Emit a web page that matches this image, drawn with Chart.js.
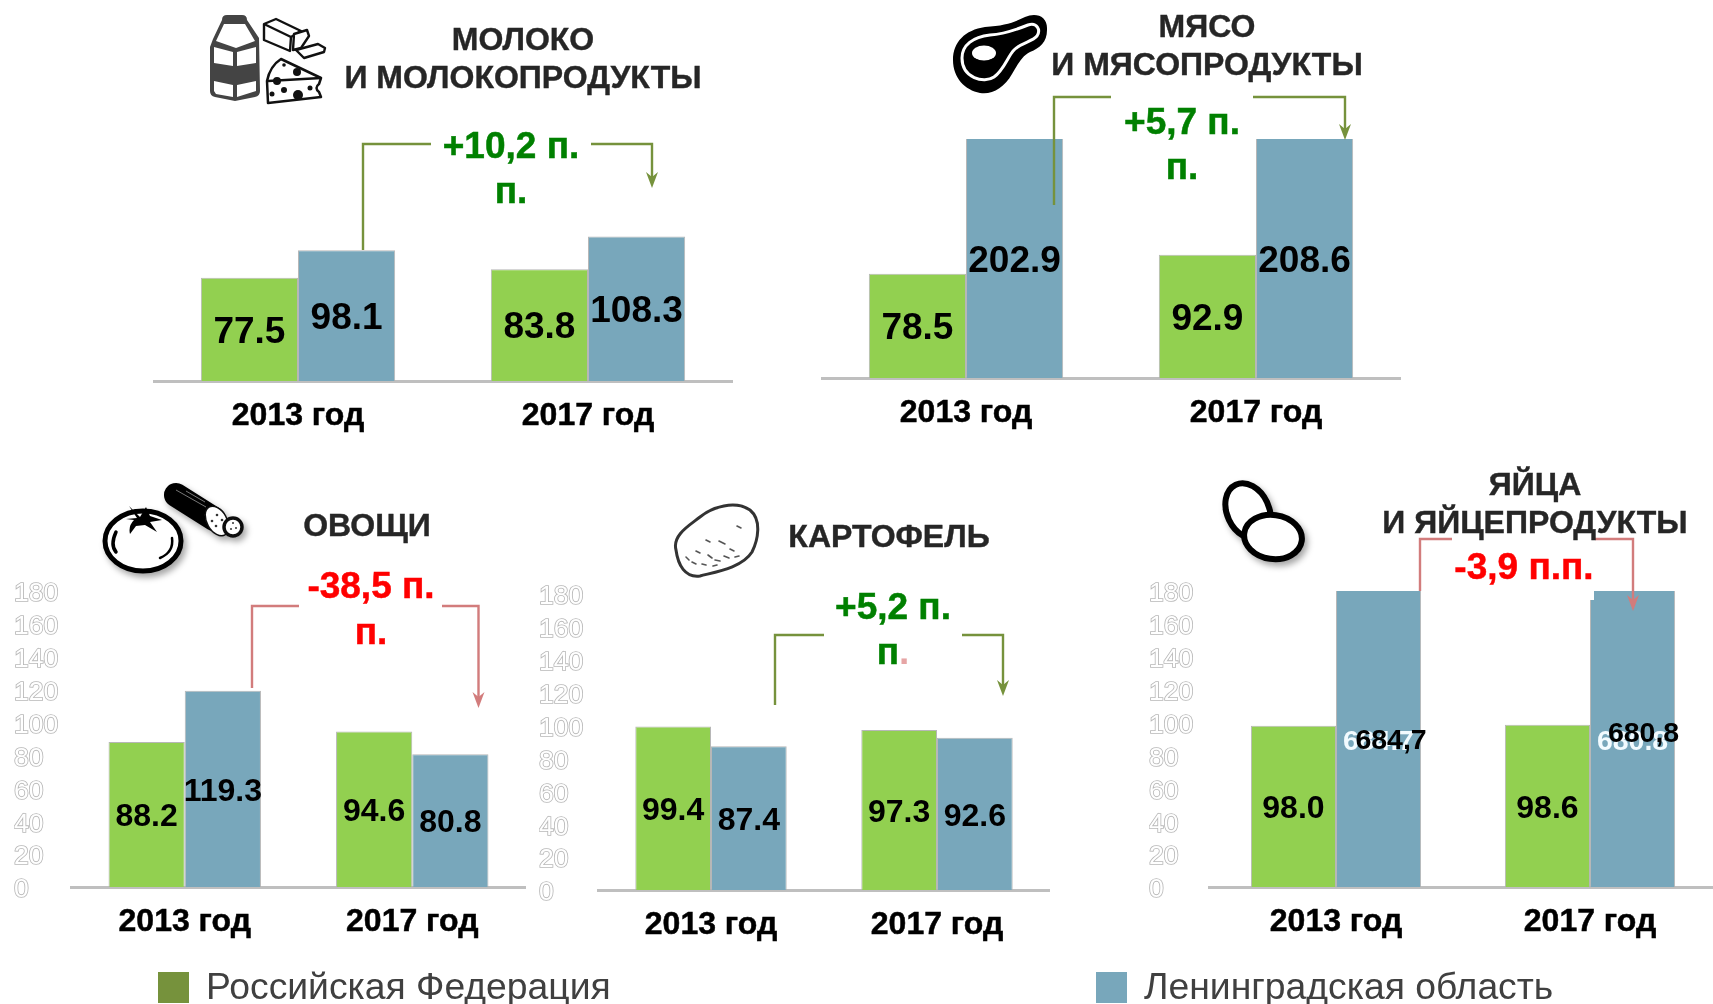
<!DOCTYPE html>
<html lang="ru"><head><meta charset="utf-8"><title>Продукты</title>
<script src="https://cdn.jsdelivr.net/npm/chart.js@4"></script>
<style>
html,body{margin:0;padding:0;background:#fff;width:1713px;height:1004px;overflow:hidden;font-family:"Liberation Sans",Arial,sans-serif}
canvas{position:absolute}
svg{position:absolute;left:0;top:0}
.t{position:absolute;transform:translate(-50%,-50%);white-space:nowrap;font-weight:bold;line-height:1}
.title{color:#262626;font-size:32px;-webkit-text-stroke:.4px #262626}
.green{color:#008000;font-size:37px;-webkit-text-stroke:.5px #008000}
.red{color:#ff0000;font-size:37px;-webkit-text-stroke:.5px #ff0000}
.lg{position:absolute;font-size:37.3px;color:#404040;white-space:nowrap;line-height:1;transform:translateY(-50%)}
.sq{position:absolute;width:31px;height:31px}
</style></head><body>
<canvas id="milk"></canvas><canvas id="meat"></canvas><canvas id="veg"></canvas><canvas id="potato"></canvas><canvas id="egg"></canvas>

<svg width="1713" height="1004" viewBox="0 0 1713 1004">
<defs>
<filter id="sh" filterUnits="userSpaceOnUse" x="0" y="0" width="1713" height="1004"><feDropShadow dx="3" dy="4" stdDeviation="3" flood-color="#000" flood-opacity=".35"/></filter>
</defs>
<!-- white box behind the egg annotation -->
<rect x="1421" y="541" width="173" height="59" fill="#fff"/>
<!-- brackets -->
<g fill="none" stroke-width="2.4">
<path stroke="#76923c" d="M363 250V144H431M591 144H652V182"/>
<path stroke="#76923c" d="M1054 205V97H1111M1253 97H1345V134"/>
<path stroke="#d27c7c" d="M252 688V606H299M442 606H478.500V702"/>
<path stroke="#76923c" d="M775 705V635H824M962 635H1003V690"/>
<path stroke="#d27c7c" d="M1420 591V539H1452M1595 539H1633V605"/>
</g>
<path fill="#76923c" d="M652 188l-6-16 6 5 6-5z"/>
<path fill="#76923c" d="M1345 140l-6-16 6 5 6-5z"/>
<path fill="#d27c7c" d="M478.500 708l-6-16 6 5 6-5z"/>
<path fill="#76923c" d="M1003 696l-6-16 6 5 6-5z"/>
<path fill="#d27c7c" d="M1633 611l-6-16 6 5 6-5z"/>
<!-- milk carton -->
<path fill="#444" d="M222 20Q222 15 227 15H242Q247 15 247 20L259 38 260 91Q260 96 255 97L235 101 215 97Q210 96 210 91V47L213 39Z"/>
<path fill="#fff" d="M224 24H245L255 41 236 48 216 41ZM214 47 233 52V66L214 63ZM237 52 256 47V63L237 66ZM214 81 233 85V97L216 94 214 91ZM237 85 256 81V91L237 97Z"/>
<!-- butter -->
<g fill="#fff" stroke="#111" stroke-width="2.400" stroke-linejoin="round">
<path d="M264 24 276 19 301 31 291 37 290 51 264 40Z"/>
<path d="M291 37 264 24"/>
<path d="M294 34 307 30 309 36 301 48 293 50Z"/>
<path d="M296 50 318 44 325 48 324 52 304 58Z"/>
</g>
<!-- cheese -->
<g stroke="#111" stroke-width="2.500" stroke-linejoin="round">
<path fill="#fff" d="M267 81Q270 66 281 59L321 78 319 84Q314 88 319 92L321 97 268 103Z"/>
<path fill="none" d="M268 81 321 78"/>
</g>
<g fill="#111"><circle cx="277" cy="81" r="4"/><circle cx="297" cy="72" r="4"/><circle cx="298" cy="95" r="5"/><circle cx="284" cy="90" r="3"/><circle cx="272" cy="94" r="2.500"/><circle cx="310" cy="88" r="2.500"/><circle cx="284" cy="65" r="1.800"/></g>
<!-- meat -->
<path fill="#000" d="M953 60C953 42 965 30 985 27 1005 26 1015 22 1025 17 1036 12 1048 16 1047 30 1047 42 1040 48 1030 52 1022 56 1018 64 1012 74 1004 88 992 95 980 93 965 90 953 78 953 60Z"/>
<path fill="none" stroke="#fff" stroke-width="3" d="M962 58C962 45 973 37 990 35 1005 34 1018 29 1028 25 1037 22 1041 30 1037 36 1032 42 1022 42 1014 50 1008 56 1004 70 994 77 984 84 962 78 962 58Z"/>
<ellipse cx="984" cy="53" rx="12" ry="7.500" fill="#fff"/>
<!-- cucumber -->
<g filter="url(#sh)">
<path fill="none" stroke="#000" stroke-width="24" stroke-linecap="round" d="M176 495 214 519"/>
<ellipse cx="217" cy="521" rx="10" ry="16" transform="rotate(-30 217 521)" fill="#fff" stroke="#111" stroke-width="1.500"/>
<circle cx="233" cy="527" r="9" fill="#fff" stroke="#111" stroke-width="3.500"/>
</g>
<path fill="none" stroke="#777" stroke-width="1" d="M176 490 206 507M186 491 205 502"/>
<g fill="#333"><circle cx="217" cy="515" r="1.300"/><circle cx="222" cy="520" r="1.300"/><circle cx="216" cy="526" r="1.300"/><circle cx="212" cy="521" r="1.300"/><circle cx="233" cy="523" r="1"/><circle cx="236" cy="528" r="1"/><circle cx="231" cy="529" r="1"/></g>
<!-- tomato -->
<g filter="url(#sh)"><ellipse cx="143" cy="541" rx="38" ry="30" fill="#fff" stroke="#000" stroke-width="5"/></g>
<path fill="#000" d="M129 506 140 517 146 507 150 516 162 520 150 522 157 532 145 525 136 526 130 534Q128 526 134 520L126 519 137 518Z"/>
<g fill="none" stroke="#000" stroke-linecap="round"><path stroke-width="3.500" d="M116 532Q110 545 116 552"/><path stroke-width="2.500" d="M172 538Q174 552 160 558"/></g>
<!-- potato -->
<path fill="#fff" stroke="#333" stroke-width="3" d="M676 550C672 535 690 525 700 517 712 507 735 500 750 510 762 520 758 540 752 552 742 568 715 572 700 576 685 578 678 565 676 550Z"/>
<g fill="none" stroke="#555" stroke-width="1.600" stroke-linecap="round"><path d="M737 526l4 2M706 540l4 2M719 541l6 3M696 551l4 2M708 555l4 3M715 560l5 1M724 556l5 2M735 557l4-1M686 557l3 3M692 562l4 2M702 564l4 1M713 566l4-1M730 549l4 2"/></g>
<!-- eggs -->
<g filter="url(#sh)">
<ellipse cx="1248" cy="511" rx="21" ry="29" transform="rotate(-25 1248 511)" fill="#fff" stroke="#000" stroke-width="6"/>
<ellipse cx="1273" cy="537" rx="29" ry="22" transform="rotate(8 1273 537)" fill="#fff" stroke="#000" stroke-width="6"/>
</g>
</svg>

<div class="t title" style="left:523px;top:39px">МОЛОКО</div>
<div class="t title" style="left:523px;top:77px">И МОЛОКОПРОДУКТЫ</div>
<div class="t title" style="left:1207px;top:26px">МЯСО</div>
<div class="t title" style="left:1207px;top:64px">И МЯСОПРОДУКТЫ</div>
<div class="t title" style="left:367px;top:525px">ОВОЩИ</div>
<div class="t title" style="left:889px;top:536px">КАРТОФЕЛЬ</div>
<div class="t title" style="left:1535px;top:484px">ЯЙЦА</div>
<div class="t title" style="left:1535px;top:522px">И ЯЙЦЕПРОДУКТЫ</div>

<div class="t green" style="left:511px;top:145px">+10,2 п.</div><div class="t green" style="left:511px;top:190px">п.</div>
<div class="t green" style="left:1182px;top:121px">+5,7 п.</div><div class="t green" style="left:1182px;top:166px">п.</div>
<div class="t red" style="left:371px;top:585px">-38,5 п.</div><div class="t red" style="left:371px;top:631px">п.</div>
<div class="t green" style="left:893px;top:606px">+5,2 п.</div><div class="t green" style="left:893px;top:651px">п<span style="color:#e6a5a5;-webkit-text-stroke:0">.</span></div>
<div class="t red" style="left:1524px;top:566px">-3,9 п.п.</div>

<div class="sq" style="left:158px;top:972px;background:#76923c"></div>
<div class="lg" style="left:206px;top:987px">Российская Федерация</div>
<div class="sq" style="left:1096px;top:972px;background:#78a7bb"></div>
<div class="lg" style="left:1144px;top:987px">Ленинградская область</div>

<script>
const categories = ['2013 год', '2017 год'];
const seriesNames = ['Российская Федерация', 'Ленинградская область'];
const yTickStep = 20;
const yAxisMax = 180;
const milkRF = [77.5, 83.8];
const milkLO = [98.1, 108.3];
const meatRF = [78.5, 92.9];
const meatLO = [202.9, 208.6];
const vegRF = [88.2, 94.6];
const vegLO = [119.3, 80.8];
const potatoRF = [99.4, 97.3];
const potatoLO = [87.4, 92.6];
const eggRF = [98.0, 98.6];
const eggLO = [684.7, 680.8];
const eggOverlay = ['684,7', '680,8'];

const GREEN = '#92d050', BLUE = '#78a7bb', EDGE = 'rgba(175,175,175,.9)';
const FF = '"Liberation Sans", Arial, sans-serif';

const barLabels = {
  id: 'barLabels',
  afterDatasetsDraw(chart, _a, o) {
    const c = chart.ctx, area = chart.chartArea;
    c.save();
    c.textAlign = 'center';
    c.textBaseline = 'middle';
    chart.data.datasets.forEach((ds, i) => {
      chart.getDatasetMeta(i).data.forEach((bar, j) => {
        const y = (Math.max(bar.y, area.top) + bar.base) / 2 + 3;
        c.font = 'bold ' + ((i === 1 && o.blueSize) || o.size) + 'px ' + FF;
        c.fillStyle = (i === 1 && o.blueColor) || '#000';
        c.fillText(ds.data[j].toFixed(1), bar.x, y);
        if (i === 1 && o.overlay) {
          c.fillStyle = '#000';
          c.fillText(o.overlay[j], bar.x + o.overlayDx[j], y + o.overlayDy[j]);
        }
      });
    });
    c.restore();
  }
};

function panel(id, rf, lo, g, label) {
  const el = document.getElementById(id);
  const pad = 20, xH = 62;
  const unit = g.bottom - g.top;
  el.width = g.right - g.labelLeft;
  el.height = pad + unit + xH;
  el.style.left = g.labelLeft + 'px';
  el.style.top = (g.top - pad) + 'px';
  new Chart(el, {
    type: 'bar',
    plugins: [barLabels],
    data: {
      labels: categories,
      datasets: [
        { label: seriesNames[0], data: rf, backgroundColor: GREEN, borderColor: EDGE, borderWidth: 1, borderSkipped: 'bottom' },
        { label: seriesNames[1], data: lo, backgroundColor: BLUE, borderColor: EDGE, borderWidth: 1, borderSkipped: 'bottom' }
      ]
    },
    options: {
      responsive: false, animation: false, devicePixelRatio: 1,
      layout: { padding: { top: pad, left: 0, right: 0, bottom: 0 } },
      plugins: { legend: { display: false }, tooltip: { enabled: false }, barLabels: label },
      datasets: { bar: { categoryPercentage: 0.67, barPercentage: 1 } },
      scales: {
        x: {
          grid: { display: false, drawTicks: false },
          border: { display: true, color: '#bfbfbf', width: 3 },
          ticks: { color: '#000', padding: 16, maxRotation: 0, autoSkip: false, textStrokeColor: '#000', textStrokeWidth: 0.5,
                   font: { family: FF, size: 32, weight: 'bold' } },
          afterFit(s) { s.height = xH; s.paddingLeft = s.paddingRight = 0; }
        },
        y: {
          display: g.showY ? true : false,
          min: 0, max: yAxisMax,
          grid: { display: false, drawTicks: false },
          border: { display: false },
          ticks: {
            stepSize: yTickStep, autoSkip: false, crossAlign: 'far', padding: 0, labelOffset: 3,
            color: '#fff', textStrokeColor: '#b8b8b8', textStrokeWidth: 1.7,
            font: { family: FF, size: 26.5 }
          },
          afterFit(s) { s.width = g.left - g.labelLeft; s.paddingTop = s.paddingBottom = 0; }
        }
      }
    }
  });
}

panel('milk', milkRF, milkLO, { labelLeft: 153, left: 153, right: 733, top: 141, bottom: 381 }, { size: 37 });
panel('meat', meatRF, meatLO, { labelLeft: 821, left: 821, right: 1401, top: 139, bottom: 378 }, { size: 37 });
panel('veg', vegRF, vegLO, { labelLeft: 14, left: 71, right: 526, top: 591, bottom: 887, showY: true }, { size: 32 });
panel('potato', potatoRF, potatoLO, { labelLeft: 539, left: 598, right: 1050, top: 594, bottom: 890, showY: true }, { size: 32 });
panel('egg', eggRF, eggLO, { labelLeft: 1149, left: 1209, right: 1717, top: 591, bottom: 887, showY: true },
  { size: 32, blueSize: 28.5, blueColor: '#f2fbff', overlay: eggOverlay, overlayDx: [12.5, 11], overlayDy: [-1, -8] });
</script>
</body></html>
